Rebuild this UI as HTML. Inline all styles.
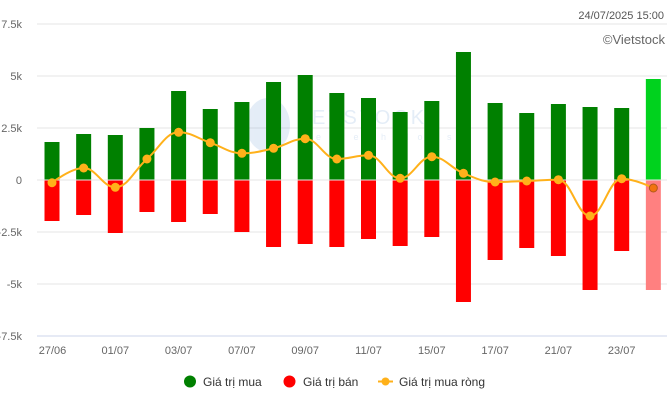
<!DOCTYPE html>
<html><head><meta charset="utf-8"><style>
html,body{margin:0;padding:0;background:#fff;}
svg{display:block;font-family:"Liberation Sans",Arial,sans-serif;}
</style></head><body>
<svg width="667" height="402" viewBox="0 0 667 402" xmlns="http://www.w3.org/2000/svg">
<rect width="667" height="402" fill="#fff"/>
<!-- gridlines -->
<g stroke="#e6e6e6" stroke-width="1">
<line x1="37" y1="24" x2="667" y2="24"/>
<line x1="37" y1="76" x2="667" y2="76"/>
<line x1="37" y1="128" x2="667" y2="128"/>
<line x1="37" y1="180" x2="667" y2="180"/>
<line x1="37" y1="232" x2="667" y2="232"/>
<line x1="37" y1="284" x2="667" y2="284"/>
</g>
<line x1="37" y1="336" x2="667" y2="336" stroke="#ccd6eb" stroke-width="1"/>
<!-- watermark -->
<g opacity="0.12">
<ellipse cx="268" cy="125" rx="22" ry="27" fill="#2a6fc0"/>
<text x="312" y="124" font-size="20" fill="#2a6fc0" letter-spacing="3">ETSTOCK</text>
<text x="316" y="140" font-size="9" fill="#2a6fc0" letter-spacing="9">efreshflows</text>
</g>
<!-- y labels -->
<g font-size="11" fill="#666" text-anchor="end">
<text x="22" y="28">7.5k</text>
<text x="22" y="80">5k</text>
<text x="22" y="132">2.5k</text>
<text x="22" y="184">0</text>
<text x="22" y="236">-2.5k</text>
<text x="22" y="288">-5k</text>
<text x="22" y="340">-7.5k</text>
</g>
<!-- green bars -->
<g fill="#008000">
<rect x="44.5" y="142" width="15" height="37.5"/>
<rect x="76.15" y="134" width="15" height="45.5"/>
<rect x="107.8" y="135" width="15" height="44.5"/>
<rect x="139.45" y="128" width="15" height="51.5"/>
<rect x="171.1" y="91" width="15" height="88.5"/>
<rect x="202.75" y="109" width="15" height="70.5"/>
<rect x="234.4" y="102" width="15" height="77.5"/>
<rect x="266.05" y="82" width="15" height="97.5"/>
<rect x="297.7" y="75" width="15" height="104.5"/>
<rect x="329.35" y="93" width="15" height="86.5"/>
<rect x="361" y="98" width="15" height="81.5"/>
<rect x="392.65" y="112" width="15" height="67.5"/>
<rect x="424.3" y="101" width="15" height="78.5"/>
<rect x="455.95" y="52" width="15" height="127.5"/>
<rect x="487.6" y="103" width="15" height="76.5"/>
<rect x="519.25" y="113" width="15" height="66.5"/>
<rect x="550.9" y="104" width="15" height="75.5"/>
<rect x="582.55" y="107" width="15" height="72.5"/>
<rect x="614.2" y="108" width="15" height="71.5"/>
</g>
<rect x="645.85" y="79" width="15" height="100.5" fill="#00d21e"/>
<!-- red bars -->
<g fill="#ff0000">
<rect x="44.5" y="180.5" width="15" height="40.5"/>
<rect x="76.15" y="180.5" width="15" height="34.5"/>
<rect x="107.8" y="180.5" width="15" height="52.5"/>
<rect x="139.45" y="180.5" width="15" height="31.5"/>
<rect x="171.1" y="180.5" width="15" height="41.5"/>
<rect x="202.75" y="180.5" width="15" height="33.5"/>
<rect x="234.4" y="180.5" width="15" height="51.5"/>
<rect x="266.05" y="180.5" width="15" height="66.5"/>
<rect x="297.7" y="180.5" width="15" height="63.5"/>
<rect x="329.35" y="180.5" width="15" height="66.5"/>
<rect x="361" y="180.5" width="15" height="58.5"/>
<rect x="392.65" y="180.5" width="15" height="65.5"/>
<rect x="424.3" y="180.5" width="15" height="56.5"/>
<rect x="455.95" y="180.5" width="15" height="121.5"/>
<rect x="487.6" y="180.5" width="15" height="79.5"/>
<rect x="519.25" y="180.5" width="15" height="67.5"/>
<rect x="550.9" y="180.5" width="15" height="75.5"/>
<rect x="582.55" y="180.5" width="15" height="109.5"/>
<rect x="614.2" y="180.5" width="15" height="70.5"/>
</g>
<rect x="645.85" y="180.5" width="15" height="109.5" fill="#ff8080"/>
<!-- net line -->
<path fill="none" stroke="#ffb11a" stroke-width="2" stroke-linejoin="round" stroke-linecap="round" d="M52,182.7 C52,182.7 70.99,168 83.65,168 C96.31,168 102.64,187.3 115.3,187.3 C127.96,187.3 134.29,170 146.95,159 C159.61,148 165.94,132.3 178.6,132.3 C191.26,132.3 197.59,138.5 210.25,142.7 C222.91,146.9 229.24,153.3 241.9,153.3 C254.56,153.3 260.89,151.22 273.55,148.3 C286.21,145.38 292.54,138.7 305.2,138.7 C317.86,138.7 324.19,159 336.85,159 C349.51,159 355.84,155.3 368.5,155.3 C381.16,155.3 387.49,178.3 400.15,178.3 C412.81,178.3 419.14,156.7 431.8,156.7 C444.46,156.7 450.79,168.24 463.45,173.3 C476.11,178.36 482.44,182 495.1,182 C507.76,182 514.09,181.46 526.75,181 C539.41,180.54 545.74,179.7 558.4,179.7 C571.06,179.7 577.39,216 590.05,216 C602.71,216 609.04,178.7 621.7,178.7 C634.36,178.7 653.35,188 653.35,188"/>
<g fill="#ffb11a">
<circle cx="52" cy="182.7" r="4.5"/>
<circle cx="83.65" cy="168" r="4.5"/>
<circle cx="115.3" cy="187.3" r="4.5"/>
<circle cx="146.95" cy="159" r="4.5"/>
<circle cx="178.6" cy="132.3" r="4.5"/>
<circle cx="210.25" cy="142.7" r="4.5"/>
<circle cx="241.9" cy="153.3" r="4.5"/>
<circle cx="273.55" cy="148.3" r="4.5"/>
<circle cx="305.2" cy="138.7" r="4.5"/>
<circle cx="336.85" cy="159" r="4.5"/>
<circle cx="368.5" cy="155.3" r="4.5"/>
<circle cx="400.15" cy="178.3" r="4.5"/>
<circle cx="431.8" cy="156.7" r="4.5"/>
<circle cx="463.45" cy="173.3" r="4.5"/>
<circle cx="495.1" cy="182" r="4.5"/>
<circle cx="526.75" cy="181" r="4.5"/>
<circle cx="558.4" cy="179.7" r="4.5"/>
<circle cx="590.05" cy="216" r="4.5"/>
<circle cx="621.7" cy="178.7" r="4.5"/>
</g>
<circle cx="653.35" cy="188" r="4" fill="#f2730f" stroke="#b0591a" stroke-width="1"/>
<!-- x labels -->
<g font-size="11" fill="#666" text-anchor="middle">
<text x="52.5" y="354">27/06</text>
<text x="115.3" y="354">01/07</text>
<text x="178.6" y="354">03/07</text>
<text x="241.9" y="354">07/07</text>
<text x="305.2" y="354">09/07</text>
<text x="368.5" y="354">11/07</text>
<text x="431.8" y="354">15/07</text>
<text x="495.1" y="354">17/07</text>
<text x="558.4" y="354">21/07</text>
<text x="621.7" y="354">23/07</text>
</g>
<!-- header -->
<text x="664" y="19" font-size="11" fill="#555" text-anchor="end">24/07/2025 15:00</text>
<text x="665" y="44" font-size="13" fill="#666" text-anchor="end">©Vietstock</text>
<!-- legend -->
<circle cx="190" cy="381.5" r="6" fill="#008000"/>
<text x="203" y="386" font-size="12" fill="#333">Giá trị mua</text>
<circle cx="289.5" cy="381.5" r="6" fill="#ff0000"/>
<text x="303" y="386" font-size="12" fill="#333">Giá trị bán</text>
<line x1="378" y1="381.5" x2="393" y2="381.5" stroke="#ffb11a" stroke-width="2"/>
<circle cx="385.5" cy="381.5" r="4" fill="#ffb11a"/>
<text x="399" y="386" font-size="12" fill="#333">Giá trị mua ròng</text>
</svg>
</body></html>
